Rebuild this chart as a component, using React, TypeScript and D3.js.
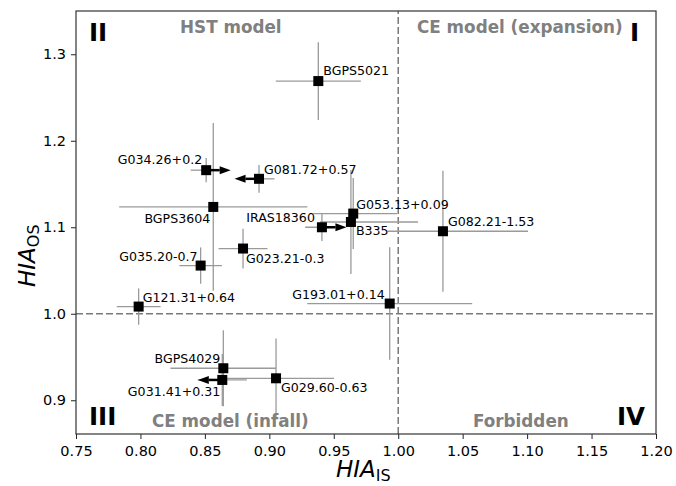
import React, { useEffect, useRef } from 'react'
import * as d3 from 'd3'

// source names and measured asymmetry indices
const names = [
  'BGPS5021', 'G034.26+0.2', 'G081.72+0.57', 'BGPS3604', 'G053.13+0.09',
  'B335', 'IRAS18360', 'G082.21-1.53', 'G023.21-0.3', 'G035.20-0.7',
  'G121.31+0.64', 'G193.01+0.14', 'BGPS4029', 'G031.41+0.31', 'G029.60-0.63',
]
const hiaIS = [0.938, 0.851, 0.892, 0.8565, 0.9651, 0.9633, 0.9408, 1.0347, 0.8796, 0.8467, 0.7986, 0.9934, 0.8643, 0.8635, 0.9052]
const hiaOS = [1.269, 1.166, 1.156, 1.1235, 1.1158, 1.1061, 1.100, 1.0954, 1.0754, 1.0557, 1.0083, 1.0118, 0.937, 0.9235, 0.9254]
const xErrLo = [0.033, 0.012, 0.012, 0.073, 0.031, 0.024, 0.013, 0.043, 0.019, 0.0165, 0.017, 0.064, 0.041, 0.019, 0.045]
const xErrHi = [0.033, 0.012, 0.012, 0.073, 0.034, 0.052, 0.013, 0.066, 0.019, 0.0165, 0.017, 0.064, 0.041, 0.019, 0.045]
const yErr = [0.045, 0.014, 0.016, 0.097, 0.041, 0.06, 0.016, 0.07, 0.023, 0.021, 0.021, 0.065, 0.044, 0.03, 0.046]
// 1 = lower limit (arrow right), -1 = upper limit (arrow left)
const limitDir = [0, 1, -1, 0, 0, 0, 1, 0, 0, 0, 0, 0, 0, -1, 0]
const arrowLen = 0.019

const xTicks = [0.75, 0.8, 0.85, 0.9, 0.95, 1.0, 1.05, 1.1, 1.15, 1.2]
const yTicks = [0.9, 1.0, 1.1, 1.2, 1.3]

const regionNames = ['HST model', 'CE model (expansion)', 'CE model (infall)', 'Forbidden']
const quadrantNames = ['II', 'I', 'III', 'IV']

// label offsets in px from the marker: dx, dy, anchor
const labelPos: [number, number, string][] = [
  [5, -6, 'start'], [-4, -6, 'end'], [5, -5, 'start'], [-3, 16, 'end'], [3, -5, 'start'],
  [5, 13, 'start'], [-7, -5, 'end'], [5, -5, 'start'], [3, 14, 'start'], [-3, -5, 'end'],
  [4, -5, 'start'], [-5, -5, 'end'], [-3, -5, 'end'], [-2, 16, 'end'], [5, 14, 'start'],
]

const W = 676
const H = 486
const margin = { left: 76, right: 20, top: 11, bottom: 52 }
const font = '"DejaVu Sans", sans-serif'
const errColor = '#9a9a9a'
const textGray = '#808080'

export default function App() {
  const ref = useRef<SVGSVGElement>(null)

  useEffect(() => {
    const svg = d3.select(ref.current)
    svg.selectAll('*').remove()

    const x = d3.scaleLinear().domain([0.75, 1.2]).range([margin.left, W - margin.right])
    const y = d3.scaleLinear().domain([0.861, 1.35]).range([H - margin.bottom, margin.top])
    const idx = d3.range(names.length)

    // dividing lines
    svg.append('line')
      .attr('x1', x(1.0)).attr('x2', x(1.0))
      .attr('y1', y.range()[0]).attr('y2', y.range()[1])
      .attr('stroke', '#7a7a7a').attr('stroke-width', 1.5).attr('stroke-dasharray', '7,3')
    svg.append('line')
      .attr('x1', x.range()[0]).attr('x2', x.range()[1])
      .attr('y1', y(1.0)).attr('y2', y(1.0))
      .attr('stroke', '#7a7a7a').attr('stroke-width', 1.5).attr('stroke-dasharray', '7,3')

    const g = svg.append('g')

    // error bars
    g.selectAll('line.xerr').data(idx).enter().append('line')
      .attr('x1', i => x(hiaIS[i] - xErrLo[i]))
      .attr('x2', i => x(hiaIS[i] + xErrHi[i]))
      .attr('y1', i => y(hiaOS[i])).attr('y2', i => y(hiaOS[i]))
      .attr('stroke', errColor).attr('stroke-width', 1.3)
    g.selectAll('line.yerr').data(idx).enter().append('line')
      .attr('x1', i => x(hiaIS[i])).attr('x2', i => x(hiaIS[i]))
      .attr('y1', i => y(hiaOS[i] - yErr[i]))
      .attr('y2', i => y(hiaOS[i] + yErr[i]))
      .attr('stroke', errColor).attr('stroke-width', 1.3)

    // limit arrows
    const lim = idx.filter(i => limitDir[i] !== 0)
    const headL = 11
    const headW = 4
    g.selectAll('line.arrow').data(lim).enter().append('line')
      .attr('x1', i => x(hiaIS[i]))
      .attr('x2', i => x(hiaIS[i] + limitDir[i] * arrowLen) - limitDir[i] * headL)
      .attr('y1', i => y(hiaOS[i])).attr('y2', i => y(hiaOS[i]))
      .attr('stroke', 'black').attr('stroke-width', 2.5)
    g.selectAll('path.head').data(lim).enter().append('path')
      .attr('d', i => {
        const tx = x(hiaIS[i] + limitDir[i] * arrowLen)
        const ty = y(hiaOS[i])
        const bx = tx - limitDir[i] * headL
        return `M${tx},${ty}L${bx},${ty - headW}L${bx},${ty + headW}Z`
      })
      .attr('fill', 'black')

    // markers
    const s = 10
    g.selectAll('rect.pt').data(idx).enter().append('rect')
      .attr('x', i => x(hiaIS[i]) - s / 2)
      .attr('y', i => y(hiaOS[i]) - s / 2)
      .attr('width', s).attr('height', s)
      .attr('fill', 'black')

    // source labels
    g.selectAll('text.lab').data(idx).enter().append('text')
      .attr('x', i => x(hiaIS[i]) + labelPos[i][0])
      .attr('y', i => y(hiaOS[i]) + labelPos[i][1])
      .attr('text-anchor', i => labelPos[i][2])
      .attr('font-family', font).attr('font-size', 12.6)
      .attr('fill', 'black')
      .text(i => names[i])

    // axes
    const xAxis = svg.append('g')
      .attr('transform', `translate(0,${H - margin.bottom})`)
      .call(d3.axisBottom(x).tickValues(xTicks).tickFormat(d3.format('.2f')).tickSize(5).tickPadding(7).tickSizeOuter(0))
    const yAxis = svg.append('g')
      .attr('transform', `translate(${margin.left},0)`)
      .call(d3.axisLeft(y).tickValues(yTicks).tickFormat(d3.format('.1f')).tickSize(5).tickPadding(5).tickSizeOuter(0))
    for (const a of [xAxis, yAxis]) {
      a.select('.domain').remove()
      a.selectAll('line').attr('stroke', '#222')
      a.selectAll('text').attr('font-family', font).attr('font-size', 14.5).attr('fill', 'black')
    }

    // frame
    svg.append('rect')
      .attr('x', margin.left).attr('y', margin.top)
      .attr('width', W - margin.left - margin.right)
      .attr('height', H - margin.top - margin.bottom)
      .attr('fill', 'none').attr('stroke', '#333').attr('stroke-width', 1.2)

    // region and quadrant annotations
    const regionAt: [number, number][] = [[180, 33], [417, 33], [152, 427], [473, 427]]
    regionNames.forEach((t, i) => {
      svg.append('text')
        .attr('x', regionAt[i][0]).attr('y', regionAt[i][1])
        .attr('font-family', font).attr('font-weight', 'bold').attr('font-size', 16.8)
        .attr('fill', textGray).text(t)
    })
    const quadAt: [number, number][] = [[89, 41], [630, 41], [89, 425], [617, 425]]
    quadrantNames.forEach((t, i) => {
      svg.append('text')
        .attr('x', quadAt[i][0]).attr('y', quadAt[i][1])
        .attr('font-family', font).attr('font-weight', 'bold').attr('font-size', 24.5)
        .attr('fill', 'black').text(t)
    })

    // axis titles
    const xl = svg.append('text')
      .attr('x', 336).attr('y', 477)
      .attr('font-family', font).attr('font-size', 23)
    xl.append('tspan').attr('font-style', 'italic').text('HIA')
    xl.append('tspan').attr('font-size', 16).attr('dy', 4).text('IS')

    const yl = svg.append('text')
      .attr('transform', 'translate(35,287) rotate(-90)')
      .attr('font-family', font).attr('font-size', 23)
    yl.append('tspan').attr('font-style', 'italic').text('HIA')
    yl.append('tspan').attr('font-size', 16).attr('dy', 4).text('OS')
  }, [])

  return (
    <svg
      ref={ref}
      width={W}
      height={H}
      style={{ position: 'absolute', left: 0, top: 0, background: 'white' }}
    />
  )
}
